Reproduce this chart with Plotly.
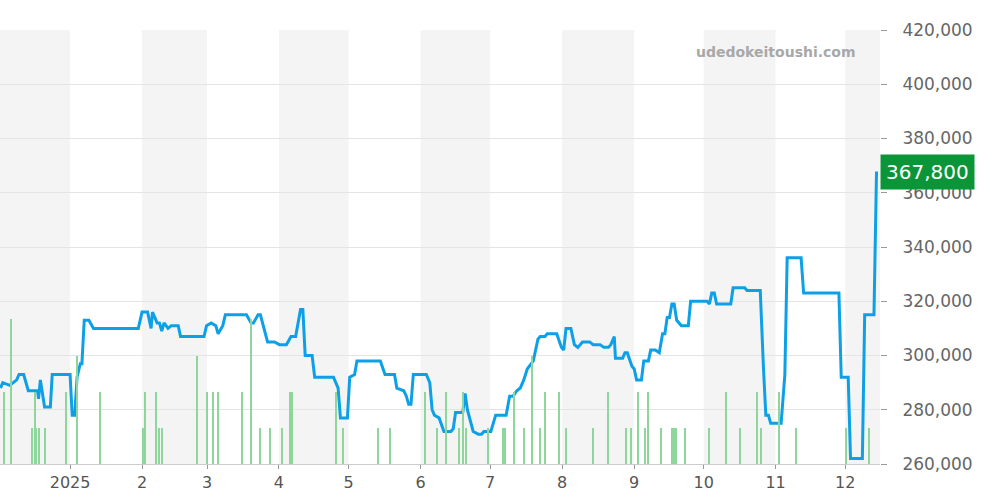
import pandas as pd
import plotly.graph_objects as go

base = pd.Timestamp("2025-01-01")
price_days = [-30,-29,-26,-23,-22,-20,-18,-14,-13.6,-12.8,-11,-8.5,-7.7,
              0,0.9,2,3,4.4,5.1,6.1,8.1,10.1,29.4,31,33.4,34.9,35.5,37.5,38.5,39.5,40.5,42.2,43.6,46.6,47.6,57.7,58.8,60.8,62.8,63.8,65.8,66.9,76,78,79,81,82,83.6,85.1,88.1,90.2,93.2,95.2,97.2,99.3,100.3,101.3,104.3,105.4,113.5,115.5,116.5,119.5,120.5,122.6,123.6,133.7,135.7,139.8,140.8,143.8,144.9,145.9,146.9,147.9,153.5,155,156,157,159,161.1,164.1,165.1,166.1,169.2,170.2,171.2,173.7,175.9,177.3,178.3,181.3,182.3,183.4,187.9,189.4,190.9,192.5,194,195.5,197,198.5,199.6,201.6,202.6,204.6,205.6,209.7,211.7,212.7,213.7,215.8,217.3,218.8,220.8,223.9,225.4,228.4,230,232,233,234.5,235,238.1,239.1,240.1,242.1,243.1,244.1,246.2,247.2,249.2,250.2,252.2,253.9,255.3,256.3,257.3,258.3,259.3,260.3,261.4,263.4,266.4,267.4,274.5,275.5,276.5,277.6,278.6,284.7,285.7,290.7,291.7,297.4,298.8,299.8,300.9,301.9,306.4,308,309,315,316.1,331.3,332.3,335.3,336.3,341.4,342.4,346.4,347.5]
price_vals = [288,290,289,291,293,293,287,287,284,291,281,281,293,293,278,278,292,297,297,313,313,310,310,316,316,310,316,312,312,309,312,310,311,311,307,307,311,312,311,308,311,315,315,312,312,315,315,310,305,305,304,304,307,307,317,317,300,300,292,292,288,277,277,292,293,298,298,293,293,288,287,285,282,282,293,293,290,280,278,277,272,272,273,279,279,286,280,272,271,271,272,272,275,278,278,285,285,287,288,291,295,297,298,306,307,307,308,308,303,302,310,310,304,303,305,305,304,304,303,303,304,307,299,299,301,301,296,295,291,291,298,298,302,302,301,308,308,314,314,319,319,313,311,311,320,320,319,323,323,319,319,325,325,324,324,295,278,278,275,275,293,336,336,323,323,292,292,262,262,315,315,367.8]
vol_days = [-28.5,-25.5,-16.6,-15.3,-14.5,-13.6,-10.6,-1.7,3,13,31.4,32.4,37.1,38.5,39.5,54.7,58.8,61.8,63.8,74,78,82,86.1,91.2,94.8,95.7,114.5,117.5,132.7,137.8,153,158,162.1,167.7,169.2,170.7,180.3,186.4,187.4,191.5,195.5,199.2,202.6,204.6,210.7,213.7,225.4,232,239.7,241.8,244.8,247.9,249.2,254.8,259.3,260.3,261.3,265.1,275.5,282.6,288.7,295.8,297.8,305.6,313,334.3,344.4]
vol_vals = [2,4,1,2,1,1,1,2,3,2,1,2,2,1,1,3,2,2,2,2,4,1,1,1,2,2,2,1,1,1,2,1,2,1,2,1,1,1,1,2,1,3,1,2,2,1,1,2,1,1,2,1,2,1,1,1,1,1,1,2,1,2,1,2,1,1,1]
tick_dates = ["2025-01-01","2025-02-01","2025-03-01","2025-04-01","2025-05-01","2025-06-01","2025-07-01","2025-08-01","2025-09-01","2025-10-01","2025-11-01","2025-12-01"]
tick_text = ["2025","2","3","4","5","6","7","8","9","10","11","12"]
y_ticks = [260000,280000,300000,320000,340000,360000,380000,400000,420000]

px = [base + pd.Timedelta(days=d) for d in price_days]
vx = [base + pd.Timedelta(days=d) for d in vol_days]
x0 = base + pd.Timedelta(days=-30.2)
x1 = base + pd.Timedelta(days=349)

fig = go.Figure()
fig.add_trace(go.Bar(x=vx, y=vol_vals, yaxis="y2", marker=dict(color="#8fd69c", line_width=0),
                     width=0.45*86400000, hoverinfo="skip"))
fig.add_trace(go.Scatter(x=px, y=[v*1000 for v in price_vals], mode="lines",
                         line=dict(color="#0ea0e6", width=3)))

shapes = []
months = pd.date_range("2024-12-01", "2026-01-01", freq="MS")
for i in range(len(months)-1):
    if i % 2 == 0:
        shapes.append(dict(type="rect", xref="x", yref="paper", x0=max(months[i], x0), x1=min(months[i+1], x1),
                           y0=0, y1=1, fillcolor="#f4f4f4", line_width=0, layer="below"))

fig.update_layout(
    width=1000, height=500, margin=dict(l=0, r=120, t=30, b=36, autoexpand=False),
    paper_bgcolor="white", plot_bgcolor="white", showlegend=False, shapes=shapes, bargap=0,
    xaxis=dict(range=[x0, x1], tickvals=tick_dates, ticktext=tick_text, showgrid=False, automargin=False,
               ticks="outside", ticklen=4, tickcolor="#999", showline=True, linecolor="#ccc",
               tickfont=dict(family="DejaVu Sans", size=16, color="#555")),
    yaxis=dict(side="right", range=[260000, 420000], tickvals=y_ticks, tickformat=",", automargin=False,
               gridcolor="#e4e4e4", ticks="outside", ticklen=6, tickcolor="#999", ticklabelstandoff=12,
               tickfont=dict(family="DejaVu Sans", size=17, color="#666")),
    yaxis2=dict(overlaying="y", range=[0, 12], visible=False),
    annotations=[
        dict(text="udedokeitoushi.com", xref="paper", yref="paper", x=0.975, y=0.95,
             xanchor="right", yanchor="middle", showarrow=False,
             font=dict(family="DejaVu Sans", size=14, color="#a8a8a8", weight="bold")),
        dict(text="367,800", xref="paper", yref="y", x=1.0, y=367800, xanchor="left",
             yanchor="middle", showarrow=False, bgcolor="#0a9638", borderpad=5,
             font=dict(family="DejaVu Sans", size=20, color="white")),
    ],
)
fig.write_html("out.html", post_script="document.body.style.margin='0';",
               config={"displayModeBar": False})
